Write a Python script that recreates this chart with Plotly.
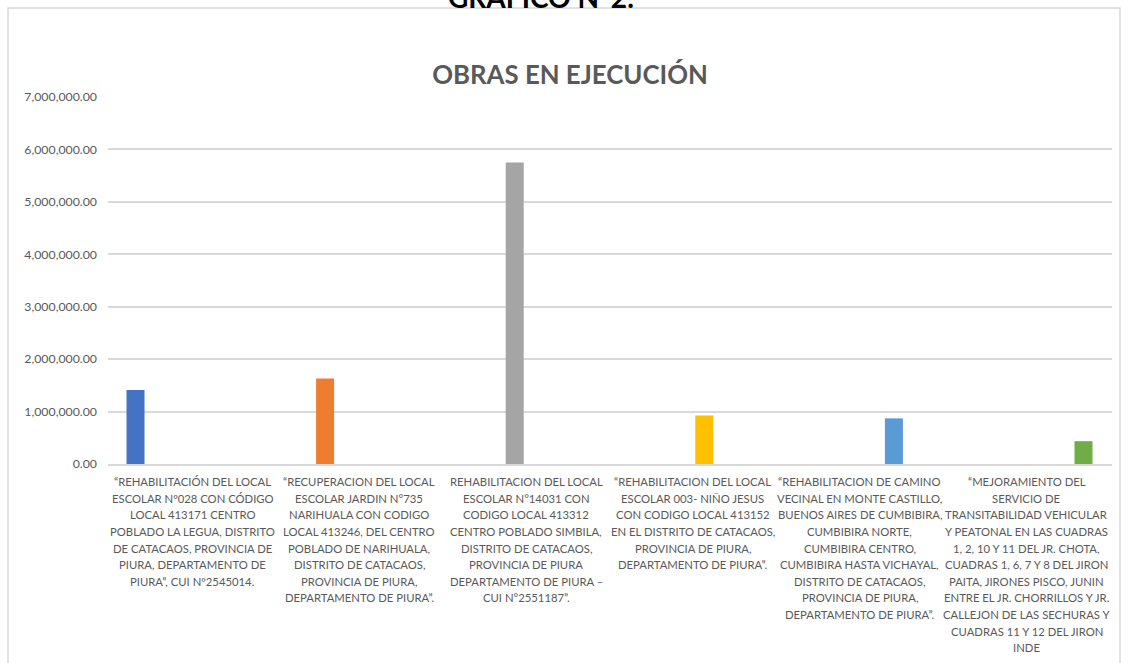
import plotly.graph_objects as go

categories = [
    "“REHABILITACIÓN DEL LOCAL<br>ESCOLAR Nº028 CON CÓDIGO<br>LOCAL 413171 CENTRO<br>POBLADO LA LEGUA, DISTRITO<br>DE CATACAOS, PROVINCIA DE<br>PIURA, DEPARTAMENTO DE<br>PIURA”, CUI Nº2545014.",
    "“RECUPERACION DEL LOCAL<br>ESCOLAR JARDIN N°735<br>NARIHUALA CON CODIGO<br>LOCAL 413246, DEL CENTRO<br>POBLADO DE NARIHUALA,<br>DISTRITO DE CATACAOS,<br>PROVINCIA DE PIURA,<br>DEPARTAMENTO DE PIURA”.",
    "REHABILITACION DEL LOCAL<br>ESCOLAR N°14031 CON<br>CODIGO LOCAL 413312<br>CENTRO POBLADO SIMBILA,<br>DISTRITO DE CATACAOS,<br>PROVINCIA DE PIURA<br>DEPARTAMENTO DE PIURA –<br>CUI N°2551187”.",
    "“REHABILITACION DEL LOCAL<br>ESCOLAR 003- NIÑO JESUS<br>CON CODIGO LOCAL 413152<br>EN EL DISTRITO DE CATACAOS,<br>PROVINCIA DE PIURA,<br>DEPARTAMENTO DE PIURA”.",
    "“REHABILITACION DE CAMINO<br>VECINAL EN MONTE CASTILLO,<br>BUENOS AIRES DE CUMBIBIRA,<br>CUMBIBIRA NORTE,<br>CUMBIBIRA CENTRO,<br>CUMBIBIRA HASTA VICHAYAL,<br>DISTRITO DE CATACAOS,<br>PROVINCIA DE PIURA,<br>DEPARTAMENTO DE PIURA”.",
    "“MEJORAMIENTO DEL<br>SERVICIO DE<br>TRANSITABILIDAD VEHICULAR<br>Y PEATONAL EN LAS CUADRAS<br>1, 2, 10 Y 11 DEL JR. CHOTA,<br>CUADRAS 1, 6, 7 Y 8 DEL JIRON<br>PAITA, JIRONES PISCO, JUNIN<br>ENTRE EL JR. CHORRILLOS Y JR.<br>CALLEJON DE LAS SECHURAS Y<br>CUADRAS 11 Y 12 DEL JIRON<br>INDE",
]
values = [1410000, 1630000, 5750000, 925000, 870000, 435000]
colors = ["#4472C4", "#ED7D31", "#A5A5A5", "#FFC000", "#5B9BD5", "#70AD47"]
y_ticks = [0, 1000000, 2000000, 3000000, 4000000, 5000000, 6000000, 7000000]

FONT = "Lato"
GRAY = "#595959"

fig = go.Figure()
for i, (v, c) in enumerate(zip(values, colors)):
    yy = [v if j == i else None for j in range(len(categories))]
    fig.add_trace(go.Bar(x=categories, y=yy, marker=dict(color=c, line=dict(width=0)),
                         name=f"Serie {i+1}", showlegend=False))

W, H = 1131, 663
L, R, T, B = 108, 1112, 97, 464
pw, ph = R - L, B - T

def px2paper_x(px):
    return (px - L) / pw

def px2paper_y(py):
    return (B - py) / ph

annotations = [dict(text="<b>GRÁFICO N°2:</b>", xref="paper", yref="paper",
                    x=px2paper_x(541), y=px2paper_y(16), xanchor="center", yanchor="bottom",
                    showarrow=False, font=dict(family=FONT, size=28, color="black"))]

# category labels, one text line per annotation to match the reference line spacing
LINE0, LINE_STEP = 481.7, 16.6
for j, cat in enumerate(categories):
    for k, line in enumerate(cat.split("<br>")):
        annotations.append(dict(text=line, xref="x", yref="paper", x=j,
                                y=px2paper_y(LINE0 + LINE_STEP * k),
                                xanchor="center", yanchor="middle", showarrow=False,
                                font=dict(family=FONT, size=11.3, color=GRAY)))

fig.update_layout(
    width=W, height=H,
    margin=dict(l=L, r=W - R, t=T, b=H - B),
    paper_bgcolor="white", plot_bgcolor="white",
    barmode="group", bargap=0.18, bargroupgap=0.21,
    font=dict(family=FONT, color=GRAY, size=12),
    title=dict(text="<b>OBRAS EN EJECUCIÓN</b>", x=570 / W, xref="container",
               y=1 - 75 / H, yanchor="middle", xanchor="center",
               font=dict(family=FONT, size=25.8, color=GRAY)),
    xaxis=dict(type="category", showgrid=False, showline=True, linecolor="#d9d9d9",
               linewidth=1.5, ticks="", showticklabels=False),
    yaxis=dict(range=[0, 7000000], tickvals=y_ticks, tickformat=",.2f",
               showgrid=True, gridcolor="#d9d9d9", gridwidth=1.5, zeroline=False,
               showline=False, ticks="", ticklen=0, ticklabelstandoff=10,
               tickfont=dict(size=12.3, color=GRAY, family=FONT)),
    shapes=[dict(type="rect", xref="paper", yref="paper",
                 x0=px2paper_x(8), x1=px2paper_x(1120),
                 y0=px2paper_y(720), y1=px2paper_y(8),
                 line=dict(color="#d9d9d9", width=1.5), fillcolor="rgba(0,0,0,0)",
                 layer="below")],
    annotations=annotations,
)

fig.write_html("out.html", config={"displayModeBar": False},
               post_script="document.body.style.margin='0';")
